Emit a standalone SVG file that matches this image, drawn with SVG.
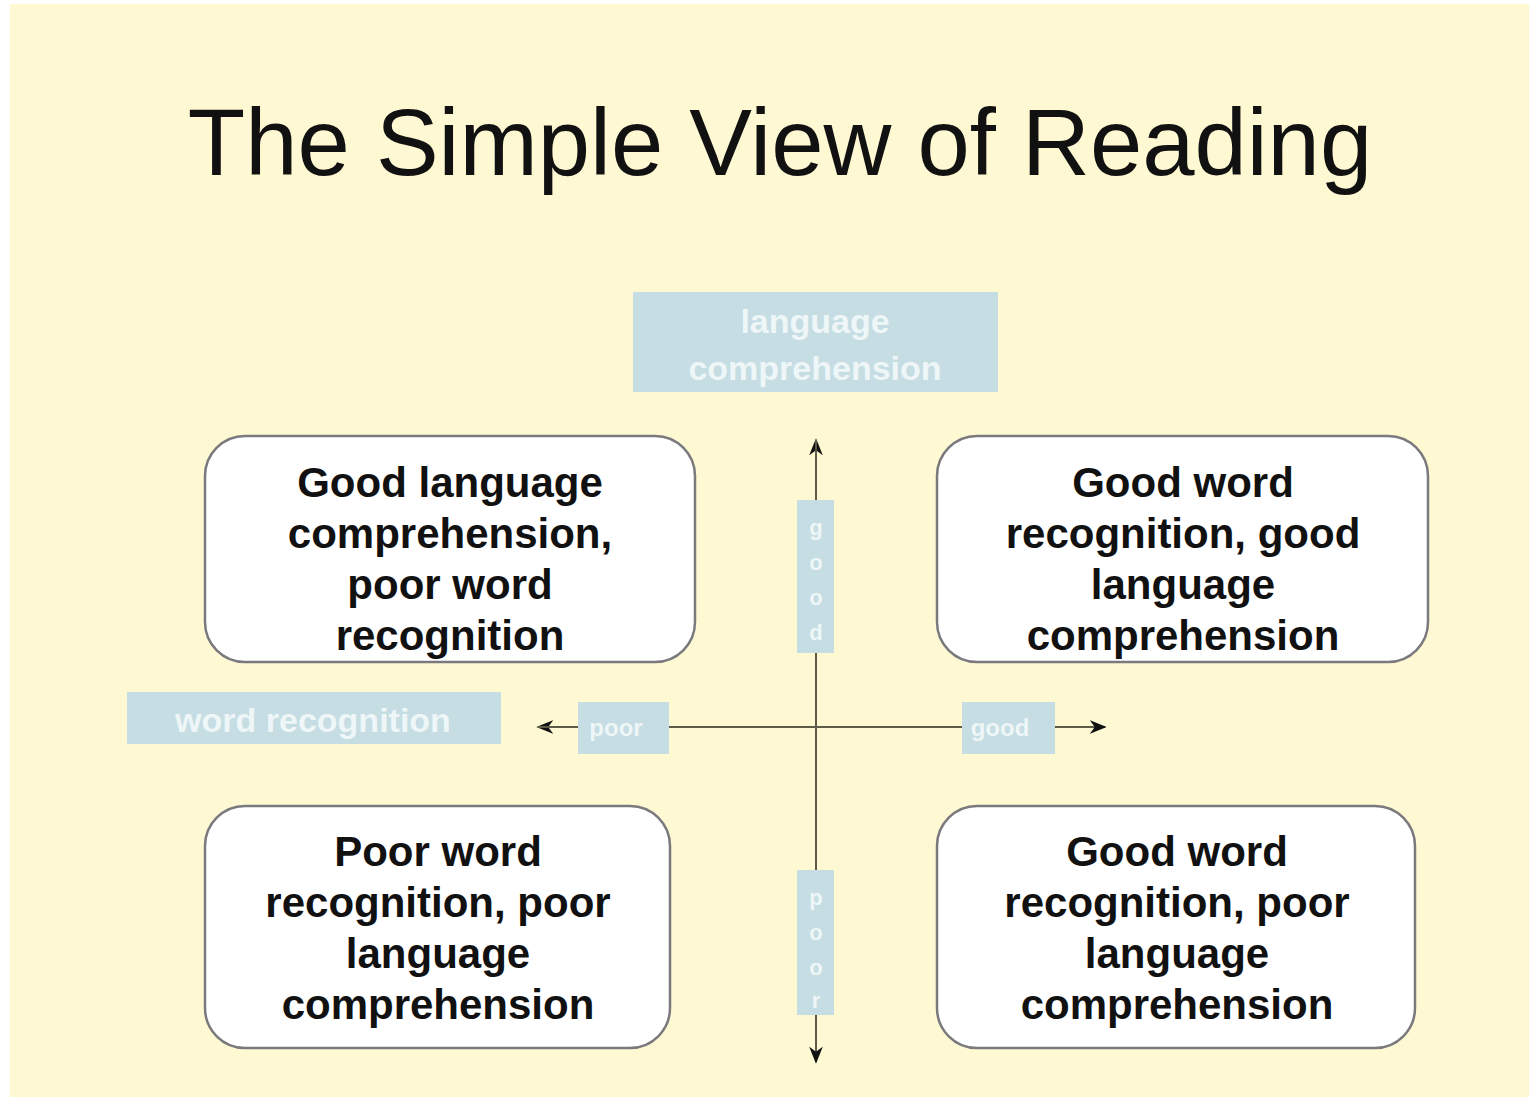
<svg xmlns="http://www.w3.org/2000/svg" width="1529" height="1097" viewBox="0 0 1529 1097">
<style>
.bg{fill:#FFF9D3}
.q{fill:#FFFFFF;stroke:#7A7A7E;stroke-width:2.5}
.qt{font-family:"Liberation Sans",Arial,sans-serif;font-weight:bold;font-size:42px;fill:#111;text-anchor:middle}
.lb{fill:#C5DDE3}
.lt{font-family:"Liberation Sans",Arial,sans-serif;font-weight:bold;fill:#EEF6F7;text-anchor:middle}
.ax{stroke:#5E5A48;stroke-width:2;fill:none}
</style>
<defs>
<marker id="ah" viewBox="0 0 20 16" refX="18" refY="8" markerWidth="17" markerHeight="14" markerUnits="userSpaceOnUse" orient="auto">
<path d="M0,0 L20,8 L0,16 L6,8 Z" fill="#111"/>
</marker>
</defs>
<rect width="1529" height="1097" fill="#FFFFFF"/>
<rect class="bg" x="10" y="4" width="1519" height="1093"/>
<text x="780" y="175" font-family="'Liberation Sans',Arial,sans-serif" font-size="94" fill="#111" text-anchor="middle">The Simple View of Reading</text>

<g id="connectors">
<line class="ax" x1="816" y1="1062" x2="816" y2="440" marker-end="url(#ah)"/>
<line class="ax" x1="816" y1="440" x2="816" y2="1062" marker-end="url(#ah)"/>
<line class="ax" x1="1105" y1="727" x2="538" y2="727" marker-end="url(#ah)"/>
<line class="ax" x1="538" y1="727" x2="1105" y2="727" marker-end="url(#ah)"/>
</g>

<g id="label-language">
<rect class="lb" x="633" y="292" width="365" height="100"/>
<text class="lt" font-size="34" x="815" y="333">language</text>
<text class="lt" font-size="34" x="815" y="380">comprehension</text>
</g>
<g id="label-word">
<rect class="lb" x="127" y="692" width="374" height="52"/>
<text class="lt" font-size="34" x="313" y="732">word recognition</text>
</g>
<g id="label-poor-h">
<rect class="lb" x="578" y="702" width="91" height="52"/>
<text class="lt" font-size="24" x="616" y="736">poor</text>
</g>
<g id="label-good-h">
<rect class="lb" x="962" y="702" width="93" height="52"/>
<text class="lt" font-size="24" x="1000" y="736">good</text>
</g>
<g id="label-good-v">
<rect class="lb" x="797" y="500" width="37" height="153"/>
<text class="lt" font-size="22" x="816" y="535">g</text>
<text class="lt" font-size="22" x="816" y="570">o</text>
<text class="lt" font-size="22" x="816" y="605">o</text>
<text class="lt" font-size="22" x="816" y="640">d</text>
</g>
<g id="label-poor-v">
<rect class="lb" x="797" y="870" width="37" height="145"/>
<text class="lt" font-size="22" x="816" y="905">p</text>
<text class="lt" font-size="22" x="816" y="940">o</text>
<text class="lt" font-size="22" x="816" y="975">o</text>
<text class="lt" font-size="22" x="816" y="1008">r</text>
</g>

<g id="q-top-left">
<rect class="q" x="205" y="436" width="490" height="226" rx="40"/>
<text class="qt" x="450" y="497">Good language</text>
<text class="qt" x="450" y="548">comprehension,</text>
<text class="qt" x="450" y="599">poor word</text>
<text class="qt" x="450" y="650">recognition</text>
</g>
<g id="q-top-right">
<rect class="q" x="937" y="436" width="491" height="226" rx="40"/>
<text class="qt" x="1183" y="497">Good word</text>
<text class="qt" x="1183" y="548">recognition, good</text>
<text class="qt" x="1183" y="599">language</text>
<text class="qt" x="1183" y="650">comprehension</text>
</g>
<g id="q-bottom-left">
<rect class="q" x="205" y="806" width="465" height="242" rx="40"/>
<text class="qt" x="438" y="866">Poor word</text>
<text class="qt" x="438" y="917">recognition, poor</text>
<text class="qt" x="438" y="968">language</text>
<text class="qt" x="438" y="1019">comprehension</text>
</g>
<g id="q-bottom-right">
<rect class="q" x="937" y="806" width="478" height="242" rx="40"/>
<text class="qt" x="1177" y="866">Good word</text>
<text class="qt" x="1177" y="917">recognition, poor</text>
<text class="qt" x="1177" y="968">language</text>
<text class="qt" x="1177" y="1019">comprehension</text>
</g>
</svg>
